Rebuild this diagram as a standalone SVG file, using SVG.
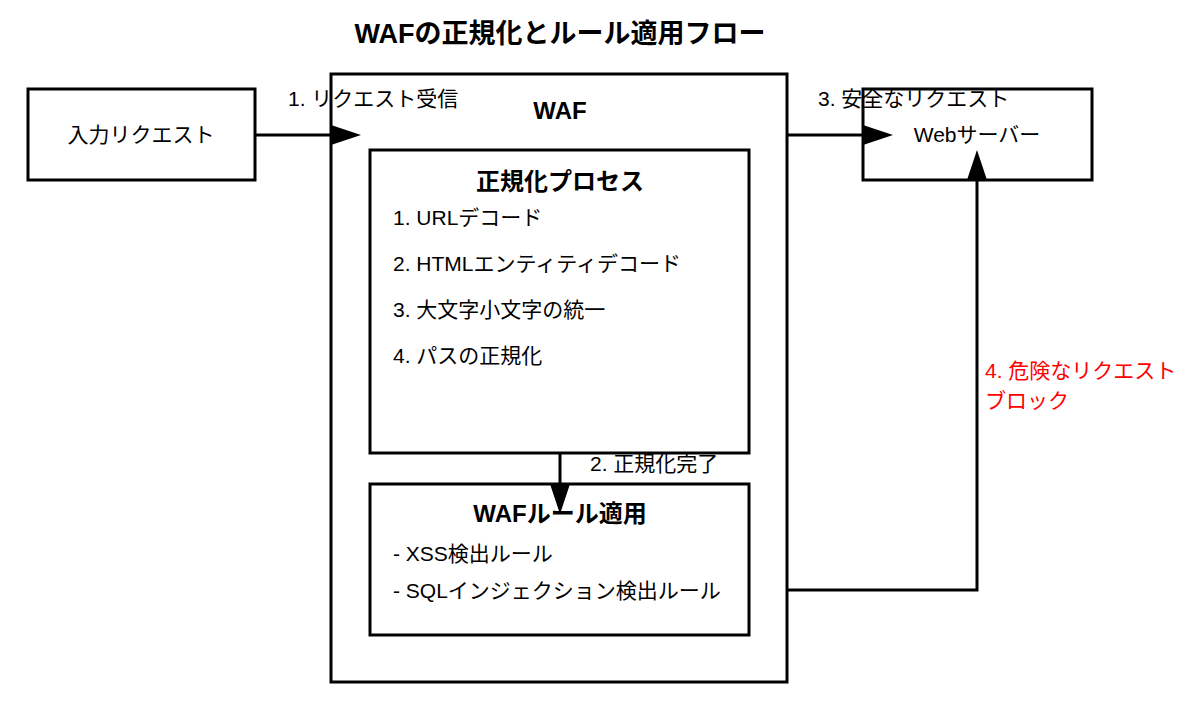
<svg xmlns="http://www.w3.org/2000/svg" width="1200" height="725" viewBox="0 0 1200 725">
<style>
text{font-family:"Liberation Sans","Noto Sans CJK JP",sans-serif;fill:#000}
.box{fill:#fff;stroke:#000;stroke-width:3}
.t{font-size:21px}
.b{font-weight:bold}
.c{text-anchor:middle}
.red{fill:#f00}
.edge{fill:none;stroke:#000;stroke-width:3}
</style>
<defs>
<marker id="a" markerUnits="userSpaceOnUse" markerWidth="30" markerHeight="20" refX="0" refY="10" orient="auto" viewBox="0 0 30 20">
<path d="M0,0 L30,10 L0,20 Z" fill="#000"/>
</marker>
</defs>
<text x="560" y="43" class="b c" font-size="27">WAFの正規化とルール適用フロー</text>
<g id="input"><rect class="box" x="28" y="89" width="227" height="91"/><text x="141" y="142" class="t c">入力リクエスト</text></g>
<g id="waf"><rect class="box" x="331" y="74" width="456" height="608"/><text x="560" y="119" class="b c" font-size="24">WAF</text></g>
<g id="normalize"><rect class="box" x="370" y="150" width="379" height="303"/>
<text x="560" y="190" class="b c" font-size="24">正規化プロセス</text>
<text x="393" y="225" class="t">1. URLデコード</text>
<text x="393" y="271" class="t">2. HTMLエンティティデコード</text>
<text x="393" y="317" class="t">3. 大文字小文字の統一</text>
<text x="393" y="363" class="t">4. パスの正規化</text></g>
<g id="rules"><rect class="box" x="370" y="484" width="379" height="151"/>
<text x="560" y="522" class="b c" font-size="24">WAFルール適用</text>
<text x="393" y="561" class="t">- XSS検出ルール</text>
<text x="393" y="598" class="t">- SQLインジェクション検出ルール</text></g>
<g id="web"><rect class="box" x="863" y="89" width="229" height="91"/><text x="977" y="142" class="t c">Webサーバー</text></g>
<g id="connectors">
<path class="edge" d="M255,135 H331" marker-end="url(#a)"/>
<path class="edge" d="M787,135 H863" marker-end="url(#a)"/>
<path class="edge" d="M560,453 V484" marker-end="url(#a)"/>
<path class="edge" d="M787,590 H977 V180" marker-end="url(#a)"/>
<text x="288" y="106" class="t">1. リクエスト受信</text>
<text x="818" y="106" class="t">3. 安全なリクエスト</text>
<text x="590" y="471" class="t">2. 正規化完了</text>
<text x="985" y="378" class="t red">4. 危険なリクエスト</text>
<text x="985" y="408" class="t red">ブロック</text>
</g>
</svg>
